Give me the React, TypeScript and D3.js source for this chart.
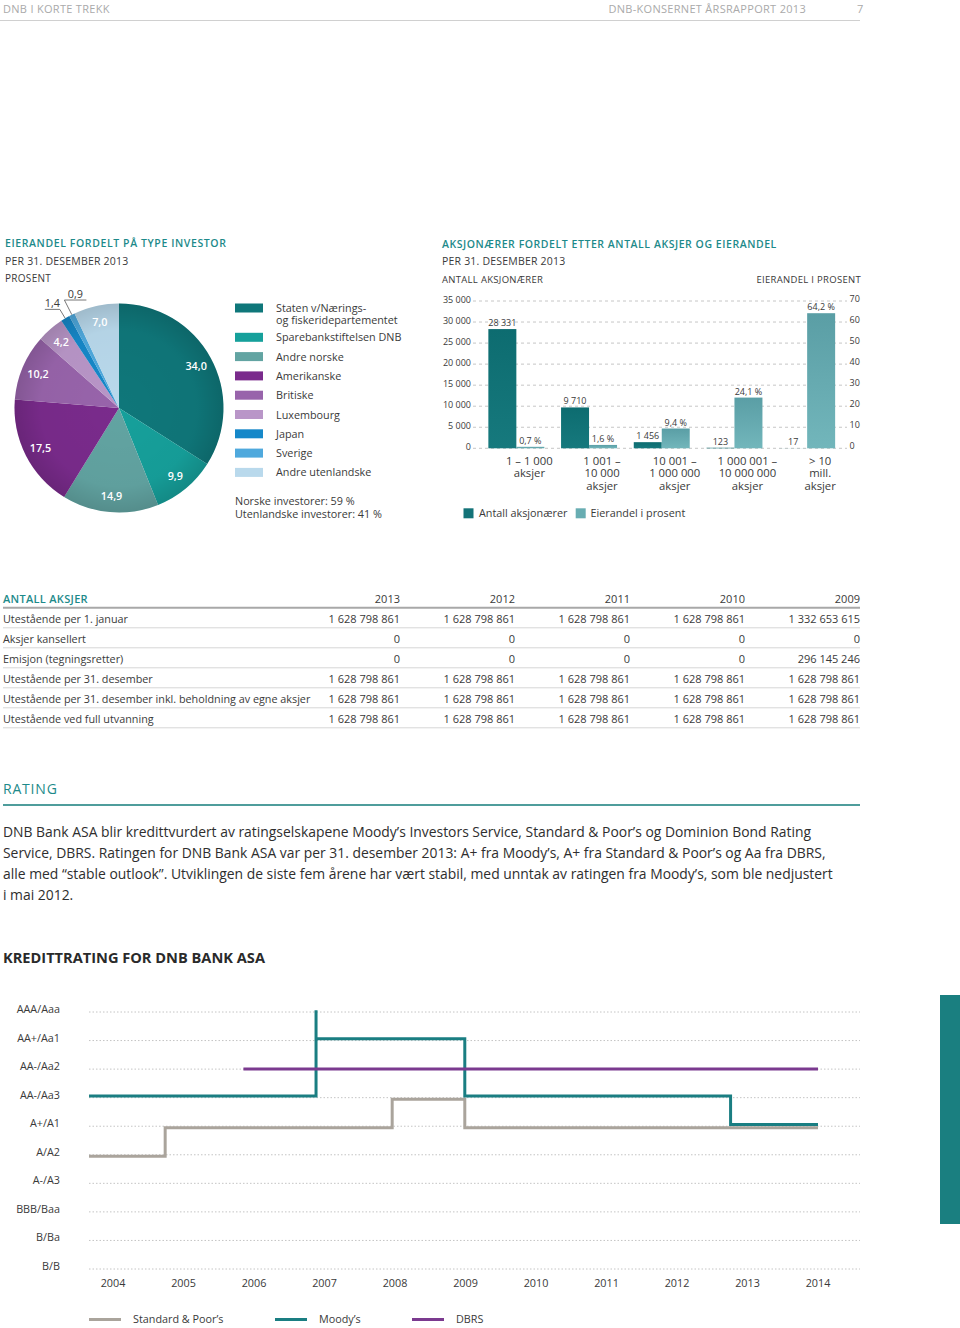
import React from 'react';
import * as d3 from 'd3';

// ---------- DATA ----------
const investorLabels = [
  'Staten v/Nærings-\nog fiskeridepartementet',
  'Sparebankstiftelsen DNB',
  'Andre norske',
  'Amerikanske',
  'Britiske',
  'Luxembourg',
  'Japan',
  'Sverige',
  'Andre utenlandske',
];
const investorShares = [34.0, 9.9, 14.9, 17.5, 10.2, 4.2, 1.4, 0.9, 7.0];
const investorColors = ['#0f777a', '#16a09b', '#62a4a2', '#7a2b8c', '#9864ab', '#b996c8', '#1688c9', '#4fa9dd', '#b9d9ec'];
const investorSummary = ['Norske investorer: 59 %', 'Utenlandske investorer: 41 %'];

const shareCategories = [
  '1 – 1 000\naksjer',
  '1 001 –\n10 000\naksjer',
  '10 001 –\n1 000 000\naksjer',
  '1 000 001 –\n10 000 000\naksjer',
  '> 10\nmill.\naksjer',
];
const shareholderCounts = [28331, 9710, 1456, 123, 17];
const ownershipPct = [0.7, 1.6, 9.4, 24.1, 64.2];
const leftTicks = [0, 5000, 10000, 15000, 20000, 25000, 30000, 35000];
const rightTicks = [0, 10, 20, 30, 40, 50, 60, 70];
const barSeries = ['Antall aksjonærer', 'Eierandel i prosent'];

const tableYears = ['2013', '2012', '2011', '2010', '2009'];
const tableRowLabels = [
  'Utestående per 1. januar',
  'Aksjer kansellert',
  'Emisjon (tegningsretter)',
  'Utestående per 31. desember',
  'Utestående per 31. desember inkl. beholdning av egne aksjer',
  'Utestående ved full utvanning',
];
const rowOutstandingJan = [1628798861, 1628798861, 1628798861, 1628798861, 1332653615];
const rowCancelled = [0, 0, 0, 0, 0];
const rowIssue = [0, 0, 0, 0, 296145246];
const rowOutstandingDec = [1628798861, 1628798861, 1628798861, 1628798861, 1628798861];
const rowOutstandingOwn = [1628798861, 1628798861, 1628798861, 1628798861, 1628798861];
const rowFullDilution = [1628798861, 1628798861, 1628798861, 1628798861, 1628798861];
const tableValues = [rowOutstandingJan, rowCancelled, rowIssue, rowOutstandingDec, rowOutstandingOwn, rowFullDilution];

const ratingParagraph = [
  'DNB Bank ASA blir kredittvurdert av ratingselskapene Moody’s Investors Service, Standard & Poor’s og Dominion Bond Rating',
  'Service, DBRS. Ratingen for DNB Bank ASA var per 31. desember 2013: A+ fra Moody’s, A+ fra Standard & Poor’s og Aa fra DBRS,',
  'alle med “stable outlook”. Utviklingen de siste fem årene har vært stabil, med unntak av ratingen fra Moody’s, som ble nedjustert',
  'i mai 2012.',
];

const ratingLevels = ['AAA/Aaa', 'AA+/Aa1', 'AA-/Aa2', 'AA-/Aa3', 'A+/A1', 'A/A2', 'A-/A3', 'BBB/Baa', 'B/Ba', 'B/B'];
const ratingYears = [2004, 2005, 2006, 2007, 2008, 2009, 2010, 2011, 2012, 2013, 2014];
const spRatings: [number, string][] = [
  [2003.66, 'A/A2'], [2004.74, 'A+/A1'], [2007.96, 'AA-/Aa3'], [2008.99, 'A+/A1'], [2014, 'A+/A1'],
];
const moodysRatings: [number, string][] = [
  [2003.66, 'AA-/Aa3'], [2006.88, 'AAA/Aaa'], [2006.88, 'AA+/Aa1'], [2008.99, 'AA-/Aa3'], [2012.76, 'A+/A1'], [2014, 'A+/A1'],
];
const dbrsRatings: [number, string][] = [
  [2005.85, 'AA-/Aa2'], [2014, 'AA-/Aa2'],
];
const ratingSeriesNames = ['Standard & Poor’s', 'Moody’s', 'DBRS'];

// ---------- STYLE ----------
const FONT = "'Open Sans', 'Noto Sans', 'DejaVu Sans', sans-serif";
const TEAL = '#1d8a8a';
const TEXT = '#3a3a3a';

const locale = d3.formatLocale({ decimal: ',', thousands: ' ', grouping: [3], currency: ['', ''] });
const fmtInt = locale.format(',d');
const fmtPct = (v: number) => locale.format(',.1f')(v) + ' %';
const fmtDec = locale.format(',.1f');

function PieChart() {
  const cx = 119, cy = 408, r = 104.5;
  const pie = d3.pie<number>().sort(null).value((d) => d);
  const arcs = pie(investorShares);
  const arcGen = d3.arc<d3.PieArcDatum<number>>().innerRadius(0).outerRadius(r);
  const outside: Record<number, { rr: number; dir: number; len: number }> = {
    6: { rr: 115, dir: -1, len: 15 },
    7: { rr: 121, dir: 1, len: 22 },
  };
  const legendY = (i: number) => (i === 0 ? 308 : 337.3 + (i - 1) * 19.3);
  return (
    <g>
      <text x={5} y={247} fontSize={10.5} fill={TEAL} fontWeight={600} letterSpacing={0.6}>EIERANDEL FORDELT PÅ TYPE INVESTOR</text>
      <text x={5} y={264.5} fontSize={10.5} fill={TEXT} letterSpacing={0.2}>PER 31. DESEMBER 2013</text>
      <text x={5} y={281.5} fontSize={10} fill={TEXT} letterSpacing={0.3}>PROSENT</text>
      <defs>
        <radialGradient id="pieShade" cx="0.5" cy="0.5" r="0.5">
          <stop offset="0" stopColor="#000" stopOpacity={0} />
          <stop offset="0.75" stopColor="#000" stopOpacity={0.03} />
          <stop offset="1" stopColor="#000" stopOpacity={0.14} />
        </radialGradient>
      </defs>
      <g transform={`translate(${cx},${cy})`}>
        {arcs.map((a, i) => (
          <path key={i} d={arcGen(a) || ''} fill={investorColors[i]} />
        ))}
        <circle r={r} fill="url(#pieShade)" />
        {arcs.map((a, i) => {
          const mid = (a.startAngle + a.endAngle) / 2;
          if (outside[i]) {
            const o = outside[i];
            const ex = Math.sin(mid) * r, ey = -Math.cos(mid) * r;
            const bx = Math.sin(mid) * o.rr, by = -Math.cos(mid) * o.rr;
            const hx = bx + o.dir * o.len;
            return (
              <g key={'o' + i}>
                <polyline points={`${ex},${ey} ${bx},${by} ${hx},${by}`} fill="none" stroke="#555" strokeWidth={0.8} />
                <text x={(bx + hx) / 2} y={by - 2} fontSize={10.8} fill={TEXT} textAnchor="middle">{fmtDec(investorShares[i])}</text>
              </g>
            );
          }
          const lr = 88;
          return (
            <text key={'l' + i} x={Math.sin(mid) * lr} y={-Math.cos(mid) * lr + 4} fontSize={10.8} fill="#fff" fontWeight={600} textAnchor="middle">
              {fmtDec(investorShares[i])}
            </text>
          );
        })}
      </g>
      {investorLabels.map((lab, i) => {
        const y = legendY(i);
        const lines = lab.split('\n');
        return (
          <g key={'lg' + i}>
            <rect x={235} y={y - 4.5} width={28} height={9} fill={investorColors[i]} />
            <text x={276} y={y + 4} fontSize={10.8} fill={TEXT}>
              {lines.map((ln, j) => (
                <tspan key={j} x={276} dy={j === 0 ? 0 : 11.5}>{ln}</tspan>
              ))}
            </text>
          </g>
        );
      })}
      <text x={235} y={504.5} fontSize={10.8} fill={TEXT}>
        {investorSummary.map((s, i) => (
          <tspan key={i} x={235} dy={i === 0 ? 0 : 13}>{s}</tspan>
        ))}
      </text>
    </g>
  );
}

function BarChart() {
  const yBase = 448.3, yTop = 301;
  const yLeft = d3.scaleLinear().domain([0, 35000]).range([yBase, yTop]);
  const yRight = d3.scaleLinear().domain([0, 70]).range([yBase, yTop]);
  const x0 = d3.scaleBand<string>().domain(shareCategories).range([480, 843.5]).paddingInner(0.23).paddingOuter(0.115);
  const x1 = d3.scaleBand<string>().domain(barSeries).range([0, x0.bandwidth()]);
  const gridX0 = 473, gridX1 = 847;
  return (
    <g>
      <defs>
        <linearGradient id="darkBar" x1="0" y1="0" x2="0" y2="1">
          <stop offset="0" stopColor="#0d6c70" />
          <stop offset="1" stopColor="#16797d" />
        </linearGradient>
        <linearGradient id="lightBar" x1="0" y1="0" x2="0" y2="1">
          <stop offset="0" stopColor="#5a9ea5" />
          <stop offset="1" stopColor="#72b6bb" />
        </linearGradient>
      </defs>
      <text x={442} y={248} fontSize={10.5} fill={TEAL} fontWeight={600} letterSpacing={0.55}>AKSJONÆRER FORDELT ETTER ANTALL AKSJER OG EIERANDEL</text>
      <text x={442} y={265} fontSize={10.5} fill={TEXT} letterSpacing={0.2}>PER 31. DESEMBER 2013</text>
      <text x={442} y={283} fontSize={9.5} fill={TEXT} letterSpacing={0.3}>ANTALL AKSJONÆRER</text>
      <text x={861} y={283} fontSize={9.5} fill={TEXT} letterSpacing={0.3} textAnchor="end">EIERANDEL I PROSENT</text>
      {leftTicks.map((t) => (
        <line key={'g' + t} x1={gridX0} x2={gridX1} y1={yLeft(t)} y2={yLeft(t)} stroke="#b8b8b8" strokeWidth={0.8} strokeDasharray="3,3" />
      ))}
      {leftTicks.map((t) => (
        <text key={'lt' + t} x={471} y={yLeft(t) + 2} fontSize={9} fill={TEXT} textAnchor="end">{fmtInt(t)}</text>
      ))}
      {rightTicks.map((t) => (
        <text key={'rt' + t} x={849.5} y={yRight(t) + 1} fontSize={9} fill={TEXT}>{t}</text>
      ))}
      {shareCategories.map((c, i) => {
        const gx = x0(c) || 0;
        const dx = gx + (x1(barSeries[0]) || 0);
        const lx = gx + (x1(barSeries[1]) || 0);
        const bw = x1.bandwidth();
        const dy = yLeft(shareholderCounts[i]);
        const ly = yRight(ownershipPct[i]);
        const cxl = lx + bw / 2 - 1;
        return (
          <g key={c}>
            <rect x={dx} y={dy} width={bw} height={yBase - dy} fill="url(#darkBar)" />
            <rect x={lx} y={ly} width={bw} height={yBase - ly} fill="url(#lightBar)" />
            <text x={dx + bw / 2} y={dy - 3} fontSize={9} fill={TEXT} textAnchor="middle">{fmtInt(shareholderCounts[i])}</text>
            <text x={lx + bw / 2} y={ly - 3} fontSize={9} fill={TEXT} textAnchor="middle">{fmtPct(ownershipPct[i])}</text>
            <text x={cxl} y={465} fontSize={11.3} fill={TEXT} textAnchor="middle">
              {c.split('\n').map((ln, j) => (
                <tspan key={j} x={cxl} dy={j === 0 ? 0 : 12.3}>{ln}</tspan>
              ))}
            </text>
          </g>
        );
      })}
      <rect x={463.5} y={508.3} width={10} height={10} fill="#137378" />
      <text x={479} y={517} fontSize={10.8} fill={TEXT}>{barSeries[0]}</text>
      <rect x={575.7} y={508.3} width={10} height={10} fill="#68adb2" />
      <text x={590.5} y={517} fontSize={10.8} fill={TEXT}>{barSeries[1]}</text>
    </g>
  );
}

function SharesTable() {
  const colRight = [400, 515, 630, 745, 860];
  return (
    <g>
      <text x={3} y={603} fontSize={11} fill={TEAL} fontWeight={600} letterSpacing={0.3}>ANTALL AKSJER</text>
      {tableYears.map((y, i) => (
        <text key={y} x={colRight[i]} y={603} fontSize={11} fill={TEXT} textAnchor="end">{y}</text>
      ))}
      <line x1={3} x2={860} y1={607.8} y2={607.8} stroke="#a8a8a8" strokeWidth={2} />
      {tableRowLabels.map((lab, r) => (
        <g key={lab}>
          <text x={3} y={622.5 + r * 20} fontSize={10.8} fill={TEXT}>{lab}</text>
          {tableValues[r].map((v, c) => (
            <text key={c} x={colRight[c]} y={622.5 + r * 20} fontSize={11} fill={TEXT} textAnchor="end">{fmtInt(v)}</text>
          ))}
          <line x1={3} x2={860} y1={627.8 + r * 20} y2={627.8 + r * 20} stroke="#d6d6d6" strokeWidth={1} />
        </g>
      ))}
    </g>
  );
}

function RatingText() {
  return (
    <g>
      <text x={3} y={794} fontSize={14} fill={TEAL} letterSpacing={0.8}>RATING</text>
      <line x1={3} x2={860} y1={805} y2={805} stroke="#4f9d9c" strokeWidth={2} />
      {ratingParagraph.map((ln, i) => (
        <text key={i} x={3} y={836.5 + i * 21} fontSize={13.9} fill="#2e2e2e">{ln}</text>
      ))}
      <text x={3} y={962.5} fontSize={14.6} fill="#2a2a2a" fontWeight={700}>KREDITTRATING FOR DNB BANK ASA</text>
    </g>
  );
}

function RatingChart() {
  const x = d3.scaleLinear().domain([2004, 2014]).range([113, 818]);
  const y = d3.scalePoint<string>().domain(ratingLevels).range([1012, 1269]);
  const gridX0 = 89, gridX1 = 860;
  const mk = (off: number) =>
    d3.line<[number, string]>().x((d) => x(d[0])).y((d) => (y(d[1]) || 0) + off).curve(d3.curveStepAfter);
  const series = [
    { name: ratingSeriesNames[0], data: spRatings, color: '#aaa49c', off: 1.5 },
    { name: ratingSeriesNames[1], data: moodysRatings, color: '#1a7e82', off: -1.7 },
    { name: ratingSeriesNames[2], data: dbrsRatings, color: '#7b3a8f', off: 0 },
  ];
  const legendX = [89, 275, 412];
  return (
    <g>
      {ratingLevels.map((lv) => (
        <g key={lv}>
          <line x1={gridX0} x2={gridX1} y1={y(lv)} y2={y(lv)} stroke="#c4c4c4" strokeWidth={1} strokeDasharray="1.5,2" />
          <text x={60} y={(y(lv) || 0) + 1} fontSize={10.8} fill={TEXT} textAnchor="end">{lv}</text>
        </g>
      ))}
      {ratingYears.map((yr) => (
        <text key={yr} x={x(yr)} y={1286.5} fontSize={10.8} fill={TEXT} textAnchor="middle">{yr}</text>
      ))}
      {series.map((s) => (
        <path key={s.name} d={mk(s.off)(s.data) || ''} fill="none" stroke={s.color} strokeWidth={3} />
      ))}
      {series.map((s, i) => (
        <g key={'lg' + s.name}>
          <line x1={legendX[i]} x2={legendX[i] + 32} y1={1319.5} y2={1319.5} stroke={s.color} strokeWidth={3} />
          <text x={legendX[i] + 44} y={1323} fontSize={10.8} fill={TEXT}>{s.name}</text>
        </g>
      ))}
      <rect x={940} y={995} width={20} height={229} fill="#1a7f80" />
    </g>
  );
}

export default function App() {
  return (
    <svg width={960} height={1328} viewBox="0 0 960 1328" style={{ position: 'absolute', left: 0, top: 0, display: 'block', background: '#fff' }} fontFamily={FONT}>
      <rect width={960} height={1328} fill="#fff" />
      <text x={3} y={13} fontSize={11} fill="#aaaaaa" letterSpacing={0.3}>DNB I KORTE TREKK</text>
      <text x={806} y={13} fontSize={11} fill="#aaaaaa" textAnchor="end" letterSpacing={0.3}>DNB-KONSERNET ÅRSRAPPORT 2013</text>
      <text x={857} y={13} fontSize={11} fill="#aaaaaa">7</text>
      <line x1={0} x2={860} y1={20.5} y2={20.5} stroke="#d0d0d0" strokeWidth={1} />
      <PieChart />
      <BarChart />
      <SharesTable />
      <RatingText />
      <RatingChart />
    </svg>
  );
}
